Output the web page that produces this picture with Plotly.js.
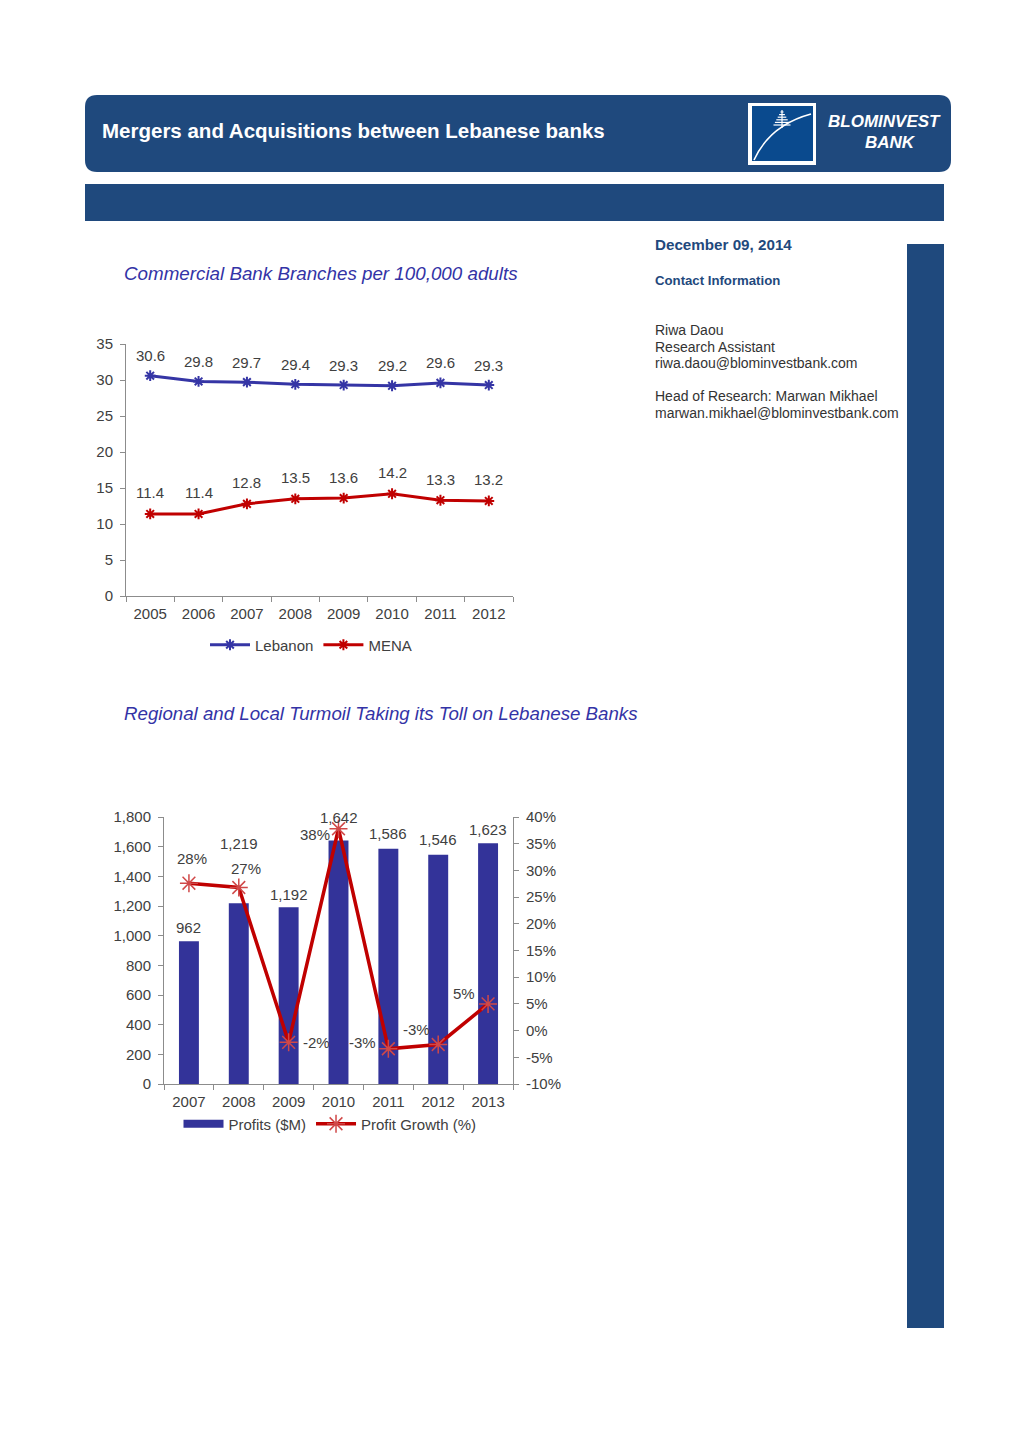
<!DOCTYPE html>
<html>
<head>
<meta charset="utf-8">
<script src="https://cdn.plot.ly/plotly-3.0.1.min.js"></script>
<style>
html,body{margin:0;padding:0;background:#fff;}
#page{width:1020px;height:1442px;}
</style>
</head>
<body>
<div id="page"></div>
<script>
// ---------- DATA ----------
const branchYears = ['2005','2006','2007','2008','2009','2010','2011','2012'];
const lebanonBranches = [30.6, 29.8, 29.7, 29.4, 29.3, 29.2, 29.6, 29.3];
const menaBranches = [11.4, 11.4, 12.8, 13.5, 13.6, 14.2, 13.3, 13.2];

const profitYears = ['2007','2008','2009','2010','2011','2012','2013'];
const profitsM = [962, 1219, 1192, 1642, 1586, 1546, 1623];
const profitGrowth = [27.6, 26.8, -2.2, 37.8, -3.4, -2.6, 5.0];

const growthTickVals = [-10, -5, 0, 5, 10, 15, 20, 25, 30, 35, 40];
const growthTickText = ['-10%', '-5%', '0%', '5%', '10%', '15%', '20%', '25%', '30%', '35%', '40%'];

const headerTitle = 'Mergers and Acquisitions between Lebanese banks';
const chart1Title = 'Commercial Bank Branches per 100,000 adults';
const chart2Title = 'Regional and Local Turmoil Taking its Toll on Lebanese Banks';
const reportDate = 'December 09, 2014';
const contactLines = ['Riwa Daou', 'Research Assistant', 'riwa.daou@blominvestbank.com'];
const headLines = ['Head of Research: Marwan Mikhael', 'marwan.mikhael@blominvestbank.com'];

// ---------- STYLE / LAYOUT HELPERS ----------
const W = 1020, H = 1442;
const px = x => x / W;
const py = y => 1 - y / H;
const NAVY = '#1f497d';
const BAR = '#333399';
const LEB = '#3535a5';
const RED = '#c00000';
const TXT = '#404040';
const AXC = '#8c8c8c';
const FONT = 'Liberation Sans, Arial, sans-serif';

// per-label nudges (pixels) for chart 2 labels
const barLabelLift = [14, 60, 13, 23, 15, 15, 14];
const growthLabelNudge = [[3,25],[7,19],[28,0],[-24,-6],[-26,6],[-22,15],[-24,10]];

const traces = [
  {x: branchYears, y: lebanonBranches, name: 'Lebanon', type: 'scatter', mode: 'lines+markers',
   xaxis: 'x', yaxis: 'y', legend: 'legend',
   line: {color: LEB, width: 3},
   marker: {symbol: 'asterisk-open', size: 9, color: LEB, line: {color: LEB, width: 2}}},
  {x: branchYears, y: menaBranches, name: 'MENA', type: 'scatter', mode: 'lines+markers',
   xaxis: 'x', yaxis: 'y', legend: 'legend',
   line: {color: RED, width: 3},
   marker: {symbol: 'asterisk-open', size: 9, color: RED, line: {color: RED, width: 2}}},
  {x: profitYears, y: profitsM, name: 'Profits ($M)', type: 'bar',
   xaxis: 'x2', yaxis: 'y2', showlegend: false, width: 0.4,
   marker: {color: BAR}},
  // legend key for the bars (Excel-style wide swatch), no data points
  {x: [null], y: [null], name: 'Profits ($M)', type: 'scatter', mode: 'lines',
   xaxis: 'x2', yaxis: 'y2', legend: 'legend2', hoverinfo: 'skip',
   line: {color: BAR, width: 8}},
  {x: profitYears, y: profitGrowth, name: 'Profit Growth (%)', type: 'scatter', mode: 'lines+markers',
   xaxis: 'x2', yaxis: 'y3', legend: 'legend2',
   line: {color: RED, width: 3.5},
   marker: {symbol: 'asterisk-open', size: 15, color: '#d04848', line: {color: '#d04848', width: 1.5}}}
];

const annotations = [];
const LBL = {family: FONT, size: 15, color: TXT};
// chart 1 data labels
branchYears.forEach((yr, i) => {
  annotations.push({x: i, y: lebanonBranches[i], xref: 'x', yref: 'y', text: lebanonBranches[i].toFixed(1),
    showarrow: false, yshift: 20, font: LBL});
  annotations.push({x: i, y: menaBranches[i], xref: 'x', yref: 'y', text: menaBranches[i].toFixed(1),
    showarrow: false, yshift: 21, font: LBL});
});
// chart 2 labels
profitYears.forEach((yr, i) => {
  annotations.push({x: i, y: profitsM[i], xref: 'x2', yref: 'y2', text: profitsM[i].toLocaleString('en-US'),
    showarrow: false, yshift: barLabelLift[i], font: LBL});
  const g = Math.round(profitGrowth[i]);
  annotations.push({x: i, y: profitGrowth[i], xref: 'x2', yref: 'y3', text: (g < 0 ? '-' : '') + Math.abs(g) + '%',
    showarrow: false, xshift: growthLabelNudge[i][0], yshift: growthLabelNudge[i][1], font: LBL});
});
// page text
annotations.push(
  {xref: 'paper', yref: 'paper', x: px(100), y: py(131), xanchor: 'left', yanchor: 'middle', showarrow: false,
   text: '<b>' + headerTitle + '</b>', font: {family: FONT, size: 20.5, color: '#ffffff'}},
  {xref: 'paper', yref: 'paper', x: px(884), y: py(122), xanchor: 'center', yanchor: 'middle', showarrow: false,
   text: '<b><i>BLOMINVEST</i></b>', font: {family: FONT, size: 17, color: '#ffffff'}},
  {xref: 'paper', yref: 'paper', x: px(890), y: py(143), xanchor: 'center', yanchor: 'middle', showarrow: false,
   text: '<b><i>BANK</i></b>', font: {family: FONT, size: 17, color: '#ffffff'}},
  {xref: 'paper', yref: 'paper', x: px(122), y: py(273), xanchor: 'left', yanchor: 'middle', showarrow: false,
   text: '<i>' + chart1Title + '</i>', font: {family: FONT, size: 18.8, color: '#3333a6'}},
  {xref: 'paper', yref: 'paper', x: px(122), y: py(713), xanchor: 'left', yanchor: 'middle', showarrow: false,
   text: '<i>' + chart2Title + '</i>', font: {family: FONT, size: 18.7, color: '#3333a6'}},
  {xref: 'paper', yref: 'paper', x: px(653), y: py(244), xanchor: 'left', yanchor: 'middle', showarrow: false,
   text: reportDate, font: {family: FONT, size: 15.2, color: NAVY, weight: 600}},
  {xref: 'paper', yref: 'paper', x: px(653), y: py(280), xanchor: 'left', yanchor: 'middle', showarrow: false,
   text: 'Contact Information', font: {family: FONT, size: 13.2, color: NAVY, weight: 600}}
);
contactLines.forEach((t, i) => annotations.push({xref: 'paper', yref: 'paper', x: px(653), y: py(330 + i * 16.5),
  xanchor: 'left', yanchor: 'middle', showarrow: false, text: t, font: {family: FONT, size: 14, color: '#333333'}}));
headLines.forEach((t, i) => annotations.push({xref: 'paper', yref: 'paper', x: px(653), y: py(396 + i * 16.5),
  xanchor: 'left', yanchor: 'middle', showarrow: false, text: t, font: {family: FONT, size: 14, color: '#333333'}}));

// shapes (page decoration)
function roundRect(x0, y0, x1, y1, r) {
  const X = v => px(v), Y = v => py(v);
  return `M${X(x0 + r)},${Y(y0)} L${X(x1 - r)},${Y(y0)} Q${X(x1)},${Y(y0)} ${X(x1)},${Y(y0 + r)} ` +
         `L${X(x1)},${Y(y1 - r)} Q${X(x1)},${Y(y1)} ${X(x1 - r)},${Y(y1)} L${X(x0 + r)},${Y(y1)} ` +
         `Q${X(x0)},${Y(y1)} ${X(x0)},${Y(y1 - r)} L${X(x0)},${Y(y0 + r)} Q${X(x0)},${Y(y0)} ${X(x0 + r)},${Y(y0)} Z`;
}
const rectP = (x0, y0, x1, y1, color, extra) => Object.assign({type: 'rect', xref: 'paper', yref: 'paper',
  x0: px(x0), x1: px(x1), y0: py(y1), y1: py(y0), fillcolor: color, line: {width: 0}, layer: 'below'}, extra || {});
const tree = [];
for (let k = 0; k < 6; k++) {
  const yy = 112 + k * 2.6, hw = 1.5 + k * 1.4;
  tree.push({type: 'line', xref: 'paper', yref: 'paper', x0: px(782 - hw), x1: px(782 + hw), y0: py(yy), y1: py(yy),
    line: {color: '#ffffff', width: 1.2}, layer: 'above'});
}
const shapes = [
  {type: 'path', xref: 'paper', yref: 'paper', path: roundRect(85, 95, 951, 172, 12), fillcolor: NAVY, line: {width: 0}, layer: 'below'},
  rectP(85, 184, 944, 221, NAVY),
  rectP(907, 244, 944, 1328, NAVY),
  rectP(748, 103, 816, 165, '#ffffff'),
  rectP(752, 106, 813, 161, '#0a4a8e'),
  {type: 'path', xref: 'paper', yref: 'paper', layer: 'above',
   path: `M${px(754)},${py(160)} Q${px(770)},${py(125)} ${px(811)},${py(114)}`,
   line: {color: '#ffffff', width: 1.6}},
  {type: 'line', xref: 'paper', yref: 'paper', x0: px(782), x1: px(782), y0: py(110), y1: py(128),
   line: {color: '#ffffff', width: 1.2}, layer: 'above'}
].concat(tree);

const axBase = {showgrid: false, zeroline: false, showline: true, linecolor: AXC, linewidth: 1,
  ticks: 'outside', ticklen: 5, tickcolor: AXC, fixedrange: true,
  tickfont: {family: FONT, size: 15, color: TXT}};

const layout = {
  width: W, height: H,
  margin: {l: 0, r: 0, t: 0, b: 0},
  paper_bgcolor: '#ffffff', plot_bgcolor: 'rgba(0,0,0,0)',
  showlegend: true,
  xaxis: Object.assign({}, axBase, {domain: [px(126), px(513)], anchor: 'y', type: 'category',
    range: [-0.5, 7.5], tickson: 'boundaries', ticklabelstandoff: 4}),
  yaxis: Object.assign({}, axBase, {domain: [py(596), py(344)], anchor: 'x', range: [0, 35], dtick: 5, tick0: 0,
    ticklabelstandoff: 4}),
  xaxis2: Object.assign({}, axBase, {domain: [px(164), px(513)], anchor: 'y2', type: 'category',
    range: [-0.5, 6.5], tickson: 'boundaries', ticklabelstandoff: 4}),
  yaxis2: Object.assign({}, axBase, {domain: [py(1084), py(817)], anchor: 'x2', range: [0, 1800], dtick: 200,
    tick0: 0, tickformat: ',', ticklabelstandoff: 4}),
  yaxis3: Object.assign({}, axBase, {overlaying: 'y2', side: 'right', anchor: 'x2', range: [-10, 40],
    tickvals: growthTickVals, ticktext: growthTickText, ticklabelstandoff: 4}),
  legend: {orientation: 'h', x: px(311), y: py(645), xanchor: 'center', yanchor: 'middle', itemwidth: 40,
    font: {family: FONT, size: 15, color: TXT}, bgcolor: 'rgba(0,0,0,0)'},
  legend2: {orientation: 'h', x: px(330), y: py(1124), xanchor: 'center', yanchor: 'middle', itemwidth: 40,
    font: {family: FONT, size: 15, color: TXT}, bgcolor: 'rgba(0,0,0,0)'},
  annotations: annotations,
  shapes: shapes
};

Plotly.newPlot('page', traces, layout, {staticPlot: true, displayModeBar: false});
</script>
</body>
</html>
